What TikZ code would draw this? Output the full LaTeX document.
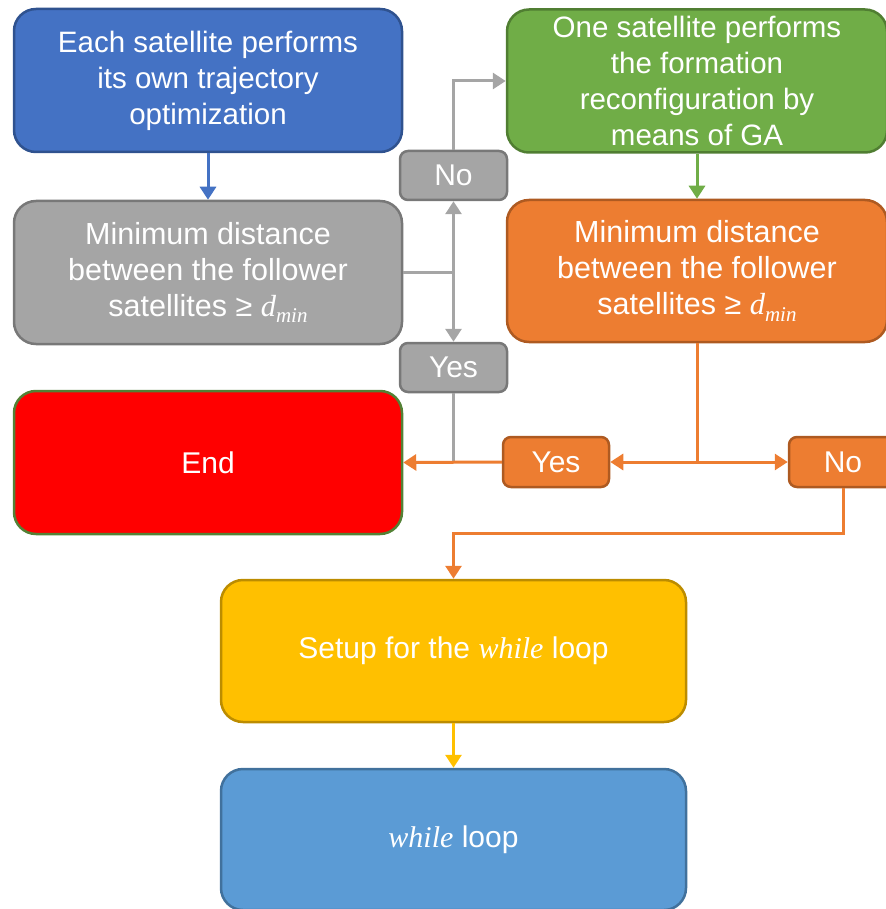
\documentclass[tikz,border=0pt]{standalone}
\usepackage{fontspec}
\setmainfont{Liberation Sans}
\newfontfamily\mserif{Liberation Serif}
\newcommand\mvar[1]{{\mserif\itshape #1}}
\newcommand\dmin{\mvar{d}\raisebox{-0.22em}{\fontsize{21}{21}\selectfont\mvar{min}}}
\usetikzlibrary{arrows.meta}
\definecolor{blueF}{HTML}{4472C4}\definecolor{blueD}{HTML}{2F528F}
\definecolor{grayF}{HTML}{A5A5A5}\definecolor{grayD}{HTML}{787878}
\definecolor{greenF}{HTML}{70AD47}\definecolor{greenD}{HTML}{507E32}
\definecolor{orangeF}{HTML}{ED7D31}\definecolor{orangeD}{HTML}{AE5A21}
\definecolor{redF}{HTML}{FF0000}\definecolor{redD}{HTML}{538135}
\definecolor{yellowF}{HTML}{FFC000}\definecolor{yellowD}{HTML}{BC8C00}
\definecolor{lblueF}{HTML}{5B9BD5}\definecolor{lblueD}{HTML}{41719C}
\begin{document}
\begin{tikzpicture}[x=1pt,y=-1pt,
  bigbox/.style={rounded corners=22pt, line width=2.5pt, text=white, align=center,
    inner sep=0pt, font=\fontsize{30}{36}\selectfont},
  smallbox/.style={rounded corners=8pt, line width=2.5pt, text=white, align=center,
    inner sep=0pt, font=\fontsize{30}{36}\selectfont},
  conn/.style={line width=3pt, -{Triangle[width=16pt,length=13pt]}},
  plain/.style={line width=3pt}]
\useasboundingbox (0,0) rectangle (885,909);
\node[bigbox, fill=blueF, draw=blueD, minimum width=388pt, minimum height=143pt,
  font=\fontsize{29.5}{36}\selectfont] (blue) at (208,80.5)
  {Each satellite performs\\its own trajectory\\optimization};
\node[bigbox, fill=grayF, draw=grayD, minimum width=388pt, minimum height=143pt,
  font=\fontsize{30.5}{36}\selectfont] (gray) at (208,272.5)
  {Minimum distance\\between the follower\\satellites ≥ \dmin};
\node[bigbox, fill=greenF, draw=greenD, minimum width=380pt, minimum height=143pt,
  font=\fontsize{29.5}{36}\selectfont] (green) at (697,81)
  {One satellite performs\\the formation\\reconfiguration by\\means of GA};
\node[bigbox, fill=orangeF, draw=orangeD, minimum width=380pt, minimum height=142pt,
  font=\fontsize{30.5}{36}\selectfont] (orange) at (697,271)
  {Minimum distance\\between the follower\\satellites ≥ \dmin};
\node[bigbox, fill=redF, draw=redD, minimum width=388pt, minimum height=143pt] (end) at (208,462.5) {End};
\node[smallbox, fill=grayF, draw=grayD, minimum width=107pt, minimum height=49pt] (noG) at (453.5,175.5) {No};
\node[smallbox, fill=grayF, draw=grayD, minimum width=107pt, minimum height=49pt] (yesG) at (453.5,367.5) {Yes};
\node[smallbox, fill=orangeF, draw=orangeD, minimum width=106pt, minimum height=50pt] (yesO) at (556,462) {Yes};
\node[smallbox, fill=orangeF, draw=orangeD, minimum width=108pt, minimum height=50pt] (noO) at (843,462) {No};
\node[bigbox, fill=yellowF, draw=yellowD, minimum width=465pt, minimum height=142pt] (yellow) at (453.5,651)
  {Setup for the \mvar{while} loop};
\node[bigbox, fill=lblueF, draw=lblueD, minimum width=465pt, minimum height=141pt] (loop) at (453.5,839.5)
  {\mvar{while} loop};
% connectors
\draw[conn, blueF] (blue) -- (gray);
\coordinate (gj) at (gray.east -| noG);
\draw[plain, grayF] (gray.east) -- (gj);
\draw[conn, grayF] (gj) -- (noG.south);
\draw[conn, grayF] (gj) -- (yesG.north);
\draw[conn, grayF] (noG.north) |- (green.west);
\draw[conn, greenF] (green) -- (orange);
\draw[plain, grayF] (yesG.south) -- (yesG.south |- end.east);
\coordinate (oj) at (orange.south |- yesO.east);
\draw[plain, orangeF] (orange.south) -- (oj);
\draw[conn, orangeF] (oj) -- (yesO.east);
\draw[conn, orangeF] (oj) -- (noO.west);
\draw[conn, orangeF] (yesO.west) -- (end.east);
\coordinate (nb) at (843,533);
\draw[conn, orangeF] (noO.south) -- (nb) -| (yellow.north);
\draw[conn, yellowF] (yellow) -- (loop);
\end{tikzpicture}
\end{document}
